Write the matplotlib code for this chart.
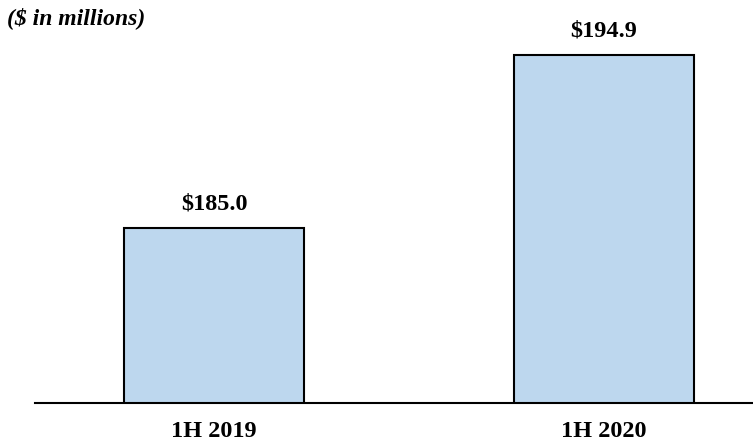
import matplotlib
matplotlib.use("Agg")
import matplotlib.pyplot as plt

# data
periods = ["1H 2019", "1H 2020"]
values = [185.0, 194.9]
value_labels = ["$185.0", "$194.9"]

plt.rcParams['font.family'] = ['Liberation Serif', 'DejaVu Serif']

fig = plt.figure(figsize=(7.53, 4.43), dpi=100)
ax = fig.add_axes([35 / 753, 40 / 443, 718 / 753, 403 / 443])

x = list(range(len(periods)))
ax.bar(x, values, width=0.4615, color='#BDD7EE', edgecolor='black', linewidth=1.5,
       bottom=0, zorder=2)

ax.set_ylim(175.0, 198.04)
ax.set_xlim(-0.459, 1.382)

for xi, v, lab in zip(x, values, value_labels):
    ax.annotate(lab, (xi, v), xytext=(0, 17), textcoords='offset points',
                ha='center', va='center', fontsize=17.5, fontweight='bold')

for side in ['left', 'right', 'top']:
    ax.spines[side].set_visible(False)
ax.spines['bottom'].set_linewidth(1.5)
ax.set_yticks([])
ax.set_xticks(x)
ax.set_xticklabels(periods, fontsize=17.5, fontweight='bold')
ax.tick_params(axis='x', length=0, pad=13)

fig.text(7 / 753, 1 - 18 / 443, "($ in millions)", fontsize=17, fontweight='bold',
         fontstyle='italic', ha='left', va='center')

fig.savefig('out.png', dpi=100)
